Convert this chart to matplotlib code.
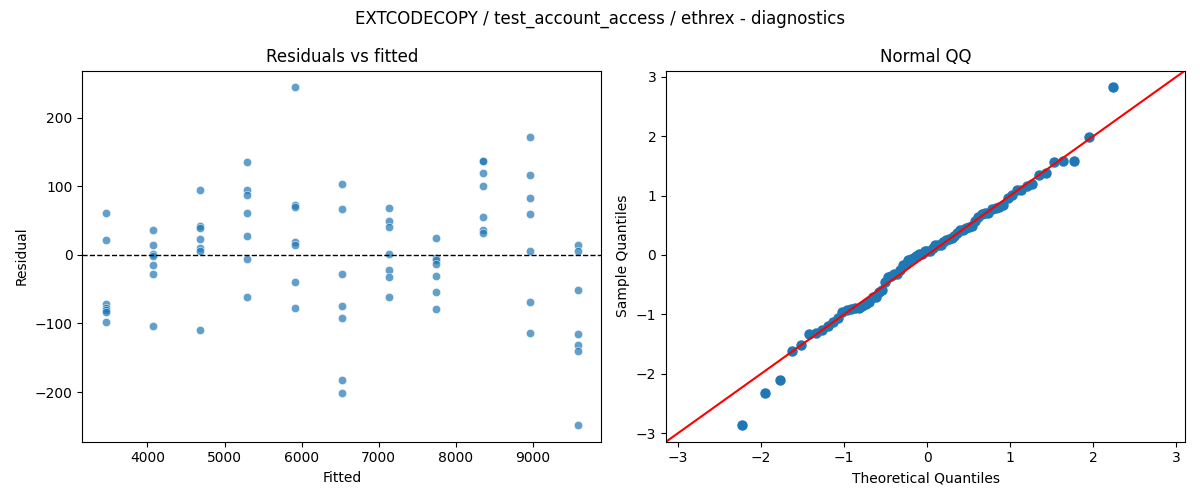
import numpy as np
import matplotlib
matplotlib.use("Agg")
import matplotlib.pyplot as plt
import seaborn as sns
from statistics import NormalDist

fitted_levels = [3460, 4072, 4684, 5296, 5908, 6520, 7132, 7744, 8356, 8968, 9580]
residual_groups = [
    [60.6, 21.3, -71.3, -77.1, -81.0, -83.4, -97.9],
    [35.9, 14.1, 1.0, -2.4, -14.5, -27.6, -103.8],
    [94.0, 42.2, 38.8, 22.8, 9.7, 5.8, -109.6],
    [134.8, 94.5, 86.8, 60.6, 27.2, -6.3, -61.6],
    [243.9, 72.7, 69.8, 18.9, 14.5, -39.8, -77.6],
    [102.8, 66.4, -28.1, -74.7, -92.1, -182.3, -200.7],
    [67.9, 49.5, 40.2, 1.0, -21.8, -32.5, -61.6],
    [24.2, -4.8, -8.2, -13.1, -31.0, -54.3, -79.0],
    [137.2, 136.2, 118.8, 99.9, 54.8, 36.4, 32.0],
    [171.2, 115.9, 82.4, 59.2, 5.3, -68.8, -113.9],
    [14.1, 5.3, -51.4, -115.4, -131.4, -140.6, -247.8],
]

title = "EXTCODECOPY / test_account_access / ethrex - diagnostics"

fitted = np.concatenate([[f] * len(g) for f, g in zip(fitted_levels, residual_groups)])
resid = np.concatenate([np.array(g, dtype=float) for g in residual_groups])

fig, (ax1, ax2) = plt.subplots(1, 2, figsize=(12, 5), dpi=100)

sns.scatterplot(x=fitted, y=resid, ax=ax1, alpha=0.7)
ax1.axhline(0, color="black", linestyle="--", linewidth=1)
ax1.set_xlabel("Fitted")
ax1.set_ylabel("Residual")
ax1.set_title("Residuals vs fitted")

# Normal QQ (standardised residuals vs normal quantiles)
n = len(resid)
sample = np.sort((resid - resid.mean()) / resid.std())
nd = NormalDist()
theo = np.array([nd.inv_cdf(i / (n + 1)) for i in range(1, n + 1)])
ax2.plot(theo, sample, "o", color="C0", markersize=6.5)
ax2.margins(0.05)
x0, x1 = ax2.get_xlim()
y0, y1 = ax2.get_ylim()
lo, hi = min(x0, y0), max(x1, y1)
ax2.plot([lo, hi], [lo, hi], color="red")
ax2.set_xlim(lo, hi)
ax2.set_ylim(lo, hi)
ax2.set_xlabel("Theoretical Quantiles")
ax2.set_ylabel("Sample Quantiles")
ax2.set_title("Normal QQ")

fig.suptitle(title)
fig.tight_layout()
fig.savefig("out.png")
